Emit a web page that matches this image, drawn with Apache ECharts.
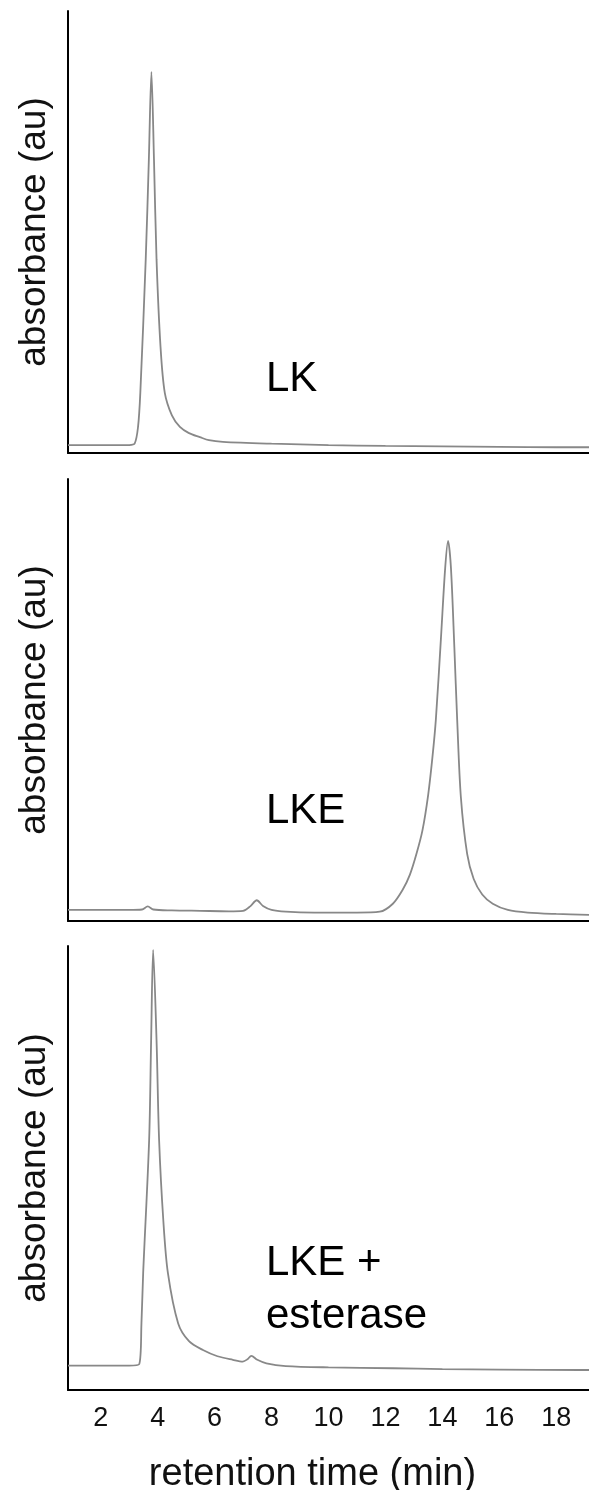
<!DOCTYPE html>
<html>
<head>
<meta charset="utf-8">
<script src="https://cdn.jsdelivr.net/npm/echarts@6/dist/echarts.min.js"></script>
<style>
html,body{margin:0;padding:0;background:#fff;}
#chart{width:589px;height:1490px;}
</style>
</head>
<body>
<div id="chart"></div>
<script>
// retention time (min) and absorbance (au, relative % of panel height)
const xTickLabels = [2, 4, 6, 8, 10, 12, 14, 16, 18];
const panelLabels = ['LK', 'LKE', 'LKE +\nesterase'];
const yAxisName = 'absorbance (au)';
const xAxisName = 'retention time (min)';

const lkTime = [0.85, 2, 3.0, 3.19, 3.31, 3.39, 3.58, 3.69, 3.78, 3.87, 3.96, 4.1, 4.25, 4.5, 4.78, 5.1, 5.48, 5.8, 6.29, 8, 10, 12, 14, 16, 18, 19.15];
const lkAbs  = [1.8, 1.8, 1.8, 2.1, 5.9, 13.6, 43.8, 66.4, 86.2, 66.4, 43.8, 24, 13.6, 8.5, 5.9, 4.5, 3.6, 2.9, 2.5, 2.1, 1.8, 1.6, 1.5, 1.4, 1.3, 1.3];

const lkeTime = [0.85, 3.0, 3.45, 3.65, 3.85, 4.5, 5.5, 6.5, 7.0, 7.25, 7.48, 7.7, 8.0, 8.5, 9.5, 11, 11.8, 12.26, 12.6, 12.86, 13.09, 13.3, 13.5, 13.65, 13.77, 13.95, 14.1, 14.2, 14.3, 14.42, 14.52, 14.65, 14.87, 15.1, 15.4, 15.77, 16.3, 17, 18, 19.15];
const lkeAbs  = [2.5, 2.5, 2.6, 3.3, 2.6, 2.4, 2.3, 2.2, 2.3, 3.3, 4.7, 3.4, 2.5, 2.1, 1.9, 1.9, 2.1, 3.9, 7, 10.5, 15.2, 20.5, 28.5, 37, 45.5, 64, 80, 86, 80, 62, 45.5, 28, 15.2, 9.5, 6, 3.9, 2.5, 1.9, 1.6, 1.4];

const estTime = [0.85, 2, 3.0, 3.35, 3.43, 3.49, 3.70, 3.77, 3.84, 3.96, 4.05, 4.2, 4.36, 4.72, 5.1, 5.59, 6.1, 6.64, 6.99, 7.15, 7.29, 7.5, 7.82, 8.5, 10, 12.26, 14, 16, 18.83, 19.15];
const estAbs  = [5.5, 5.5, 5.5, 5.8, 15, 26.3, 56.3, 78.8, 99.1, 78.8, 56.3, 38, 26.3, 15, 11, 9.0, 7.6, 6.8, 6.4, 6.9, 7.7, 6.8, 6.0, 5.4, 5.1, 4.9, 4.7, 4.6, 4.5, 4.5];

const pairs = (xs, ys) => xs.map((x, i) => [x, ys[i]]);

const FONT = 'Liberation Sans, Arial, Helvetica, sans-serif';
const grids = [
  {left: 68, right: 0, top: 11, height: 442, outerBoundsMode: 'none', containLabel: false},
  {left: 68, right: 0, top: 479, height: 442, outerBoundsMode: 'none', containLabel: false},
  {left: 68, right: 0, top: 946, height: 444, outerBoundsMode: 'none', containLabel: false}
];

const xAxes = grids.map((g, i) => ({
  type: 'value', gridIndex: i, min: 0.85, max: 19.15,
  axisLine: {show: true, onZero: false, lineStyle: {color: '#000', width: 2}},
  axisTick: {show: false},
  splitLine: {show: false},
  axisLabel: i === 2 ? {show: true, customValues: xTickLabels, color: '#111', fontSize: 27, fontFamily: FONT, margin: 15} : {show: false},
  name: i === 2 ? xAxisName : '',
  nameLocation: 'middle', nameGap: 66,
  nameTextStyle: {color: '#111', fontSize: 38, fontFamily: FONT, padding: [0, 32, 0, 0]}
}));

const yAxes = grids.map((g, i) => ({
  type: 'value', gridIndex: i, min: 0, max: 100,
  axisLine: {show: true, lineStyle: {color: '#000', width: 2}},
  axisTick: {show: false},
  axisLabel: {show: false},
  splitLine: {show: false},
  name: yAxisName, nameLocation: 'middle', nameRotate: 90, nameGap: 15,
  nameTextStyle: {color: '#111', fontSize: 37, fontFamily: FONT}
}));

const datasets = [pairs(lkTime, lkAbs), pairs(lkeTime, lkeAbs), pairs(estTime, estAbs)];
const series = datasets.map((d, i) => ({
  type: 'line', xAxisIndex: i, yAxisIndex: i, data: d,
  showSymbol: false, smooth: 0.3, silent: true,
  lineStyle: {color: '#888', width: 1.8}
}));

const labelPos = [[266, 353], [266, 785], [266, 1237]];
const graphic = panelLabels.map((t, i) => ({
  type: 'text', left: labelPos[i][0], top: labelPos[i][1],
  style: {text: t, fill: '#000', font: '42px ' + FONT, lineHeight: 53}
}));

const chart = echarts.init(document.getElementById('chart'));
chart.setOption({
  animation: false,
  backgroundColor: '#fff',
  grid: grids,
  xAxis: xAxes,
  yAxis: yAxes,
  series: series,
  graphic: graphic
});
</script>
</body>
</html>
